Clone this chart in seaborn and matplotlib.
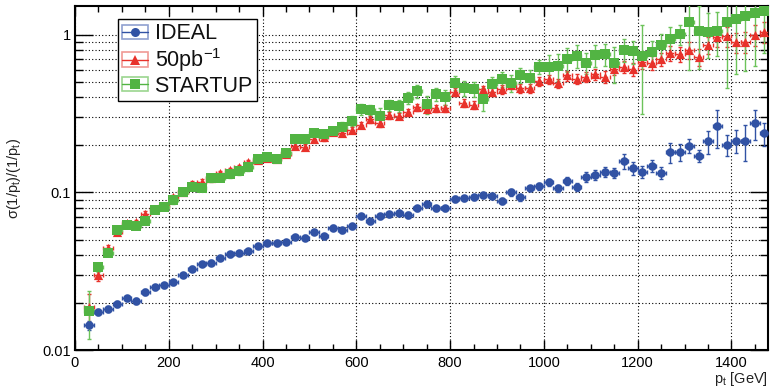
import numpy as np
import pandas as pd
import matplotlib
matplotlib.use("Agg")
import matplotlib.pyplot as plt
import seaborn as sns
from matplotlib.lines import Line2D
from matplotlib.patches import Rectangle
from matplotlib.ticker import FixedLocator, NullFormatter, FixedFormatter, MultipleLocator

# transverse-momentum bin centres [GeV]
pt = [30, 50, 70, 90, 110, 130, 150, 170, 190, 210,
      230, 250, 270, 290, 310, 330, 350, 370, 390, 410,
      430, 450, 470, 490, 510, 530, 550, 570, 590, 610,
      630, 650, 670, 690, 710, 730, 750, 770, 790, 810,
      830, 850, 870, 890, 910, 930, 950, 970, 990, 1010,
      1030, 1050, 1070, 1090, 1110, 1130, 1150, 1170, 1190, 1210,
      1230, 1250, 1270, 1290, 1310, 1330, 1350, 1370, 1390, 1410,
      1430, 1450, 1470]
pt_halfwidth = 10

# relative 1/pt resolution, ideal alignment
ideal = [0.0144, 0.0175, 0.0182, 0.0196, 0.0213, 0.0205, 0.0234, 0.0251, 0.0257, 0.0269,
         0.0299, 0.0328, 0.0351, 0.0358, 0.0383, 0.0404, 0.0414, 0.0426, 0.0456, 0.0479,
         0.0475, 0.0486, 0.0521, 0.0516, 0.0560, 0.0526, 0.0597, 0.0577, 0.0611, 0.0708,
         0.0658, 0.0705, 0.0728, 0.0739, 0.0718, 0.0791, 0.0839, 0.0791, 0.0791, 0.0907,
         0.0916, 0.0930, 0.0957, 0.0952, 0.0885, 0.1000, 0.0930, 0.1060, 0.1090, 0.1160,
         0.1060, 0.1180, 0.1080, 0.1260, 0.1290, 0.1350, 0.1330, 0.1580, 0.1420, 0.1350,
         0.1480, 0.1330, 0.1800, 0.1800, 0.1970, 0.1710, 0.2110, 0.2620, 0.2010, 0.2120,
         0.2120, 0.2740, 0.2370]
ideal_err = [0.0010, 0.0008, 0.0008, 0.0008, 0.0008, 0.0008, 0.0009, 0.0009, 0.0009, 0.0010,
             0.0010, 0.0011, 0.0011, 0.0012, 0.0012, 0.0013, 0.0013, 0.0014, 0.0015, 0.0015,
             0.0016, 0.0016, 0.0017, 0.0018, 0.0019, 0.0019, 0.0021, 0.0021, 0.0022, 0.0025,
             0.0024, 0.0026, 0.0027, 0.0028, 0.0028, 0.0031, 0.0033, 0.0032, 0.0033, 0.0037,
             0.0038, 0.0039, 0.0041, 0.0042, 0.0040, 0.0045, 0.0043, 0.0045, 0.0050, 0.0060,
             0.0060, 0.0070, 0.0065, 0.0090, 0.0100, 0.0090, 0.0090, 0.0170, 0.0130, 0.0120,
             0.0130, 0.0110, 0.0270, 0.0220, 0.0200, 0.0150, 0.0350, 0.0700, 0.0300, 0.0350,
             0.0550, 0.0600, 0.0400]

# 50 pb^-1 misalignment scenario
pb50 = [0.0188, 0.0299, 0.0442, 0.0562, 0.0636, 0.0645, 0.0728, 0.0785, 0.0825, 0.0930,
        0.1010, 0.1130, 0.1170, 0.1240, 0.1320, 0.1380, 0.1440, 0.1550, 0.1600, 0.1660,
        0.1630, 0.1740, 0.1970, 0.1930, 0.2180, 0.2230, 0.2410, 0.2390, 0.2480, 0.2670,
        0.2900, 0.2740, 0.3090, 0.3050, 0.3230, 0.3460, 0.3360, 0.3410, 0.3410, 0.4350,
        0.3700, 0.3600, 0.4500, 0.4350, 0.4500, 0.4800, 0.4570, 0.4560, 0.5080, 0.5210,
        0.4910, 0.5520, 0.5250, 0.5410, 0.5620, 0.5410, 0.6030, 0.6260, 0.6050, 0.6730,
        0.6650, 0.6990, 0.7640, 0.7530, 0.8020, 0.7270, 0.8630, 0.9700, 0.9800, 0.9000,
        0.9000, 1.0000, 1.0400]
pb50_err = [0.0040, 0.0025, 0.0025, 0.0025, 0.0025, 0.0025, 0.0030, 0.0030, 0.0030, 0.0035,
            0.0040, 0.0045, 0.0045, 0.0050, 0.0055, 0.0055, 0.0060, 0.0065, 0.0065, 0.0070,
            0.0070, 0.0075, 0.0085, 0.0085, 0.0095, 0.0100, 0.0110, 0.0110, 0.0115, 0.0125,
            0.0140, 0.0135, 0.0150, 0.0150, 0.0160, 0.0175, 0.0175, 0.0180, 0.0185, 0.0240,
            0.0210, 0.0210, 0.0260, 0.0260, 0.0280, 0.0300, 0.0300, 0.0300, 0.0340, 0.0360,
            0.0350, 0.0400, 0.0400, 0.0420, 0.0450, 0.0450, 0.0500, 0.0550, 0.0550, 0.0650,
            0.0650, 0.0700, 0.0850, 0.0850, 0.1000, 0.0900, 0.1100, 0.1300, 0.1400, 0.1300,
            0.1400, 0.1500, 0.1600]

# start-up misalignment scenario
startup = [0.0177, 0.0334, 0.0414, 0.0577, 0.0621, 0.0614, 0.0661, 0.0772, 0.0811, 0.0890,
           0.1010, 0.1080, 0.1070, 0.1230, 0.1240, 0.1300, 0.1360, 0.1450, 0.1620, 0.1680,
           0.1640, 0.1780, 0.2180, 0.2170, 0.2390, 0.2340, 0.2460, 0.2610, 0.2850, 0.3360,
           0.3330, 0.3050, 0.3580, 0.3530, 0.3960, 0.4370, 0.3610, 0.4180, 0.4040, 0.4950,
           0.4610, 0.4520, 0.3920, 0.4860, 0.5230, 0.4950, 0.5550, 0.5310, 0.6260, 0.6260,
           0.6320, 0.6990, 0.7340, 0.6660, 0.7450, 0.7530, 0.6660, 0.8020, 0.7830, 0.7340,
           0.7760, 0.8630, 0.9380, 1.0100, 1.2000, 1.0600, 1.0400, 1.0600, 1.2100, 1.2600,
           1.3200, 1.3800, 1.4200]
startup_err = [0.0060, 0.0020, 0.0020, 0.0025, 0.0025, 0.0025, 0.0030, 0.0035, 0.0035, 0.0040,
               0.0045, 0.0050, 0.0050, 0.0060, 0.0060, 0.0065, 0.0070, 0.0075, 0.0085, 0.0090,
               0.0090, 0.0100, 0.0120, 0.0120, 0.0140, 0.0140, 0.0150, 0.0170, 0.0200, 0.0250,
               0.0250, 0.0400, 0.0300, 0.0300, 0.0350, 0.0400, 0.0450, 0.0400, 0.0450, 0.0500,
               0.0500, 0.0500, 0.0650, 0.0550, 0.0600, 0.0600, 0.0600, 0.0650, 0.0600, 0.1200,
               0.1200, 0.1200, 0.1200, 0.1000, 0.1200, 0.1200, 0.1700, 0.1300, 0.1300, 0.4200,
               0.1300, 0.1500, 0.1800, 0.1500, 0.6000, 0.4500, 0.3300, 0.3300, 0.7500, 0.7000,
               0.7300, 0.7500, 0.6600]

labels = ["IDEAL", "50pb$^{-1}$", "STARTUP"]
y_ticks = [0.01, 0.1, 1]
y_ticklabels = ["0.01", "0.1", "1"]
x_ticks = [0, 200, 400, 600, 800, 1000, 1200, 1400]

sns.set_theme(style="ticks")
plt.rcParams['font.family'] = ['Liberation Sans', 'DejaVu Sans']
plt.rcParams['mathtext.default'] = 'regular'

BLUE = "#3152a4"
RED = "#e8322b"
GREEN = "#52b443"
GREEN_BAR = "#6cc35a"

frames = []
for name, vals, errs in [("IDEAL", ideal, ideal_err),
                         ("50pb", pb50, pb50_err),
                         ("STARTUP", startup, startup_err)]:
    frames.append(pd.DataFrame({"pt": pt, "res": vals, "err": errs, "sample": name}))
df = pd.concat(frames, ignore_index=True)

fig = plt.figure(figsize=(7.7, 3.89), dpi=100)
ax = fig.add_axes([0.0974, 0.100, 0.9, 0.8846])

styles = {
    "IDEAL":   dict(color=BLUE, bar=BLUE, marker="o", s=38, ls="-"),
    "50pb":    dict(color=RED, bar=RED, marker="^", s=44, ls=":"),
    "STARTUP": dict(color=GREEN, bar=GREEN_BAR, marker="s", s=42, ls="-"),
}

for name in ["IDEAL", "50pb", "STARTUP"]:
    st = styles[name]
    sub = df[df["sample"] == name]
    eb = ax.errorbar(sub["pt"], sub["res"], yerr=sub["err"], xerr=pt_halfwidth,
                     fmt="none", ecolor=st["bar"], elinewidth=1.0, capsize=1.5,
                     capthick=1.0, zorder=3)
    if st["ls"] == ":":
        eb[2][0].set_linestyle((0, (2, 1.5)))
    sns.scatterplot(data=sub, x="pt", y="res", ax=ax, color=st["color"],
                    marker=st["marker"], s=st["s"], linewidth=0, zorder=4,
                    legend=False)

ax.set_yscale("log")
ax.set_xlim(0, 1478)
ax.set_ylim(0.01, 1.52)

ax.yaxis.set_major_locator(FixedLocator(y_ticks))
ax.yaxis.set_major_formatter(FixedFormatter(y_ticklabels))
minor_y = [m * d for d in (0.01, 0.1, 1) for m in range(2, 10) if m * d < 1.52]
ax.yaxis.set_minor_locator(FixedLocator(minor_y))
ax.yaxis.set_minor_formatter(NullFormatter())
ax.xaxis.set_major_locator(FixedLocator(x_ticks))
ax.xaxis.set_minor_locator(MultipleLocator(50))

ax.grid(which="major", axis="x", color="black", linestyle=(0, (1, 2)), linewidth=0.8)
ax.grid(which="both", axis="y", color="black", linestyle=(0, (1, 2)), linewidth=0.8)
ax.set_axisbelow(True)

ax.tick_params(axis="both", which="both", direction="in", top=True, right=True,
               colors="black", labelsize=10.5, width=1.0)
ax.tick_params(axis="y", which="major", length=13, pad=3)
ax.tick_params(axis="y", which="minor", length=6)
ax.tick_params(axis="x", which="major", length=7, pad=4)
ax.tick_params(axis="x", which="minor", length=4)
for sp in ax.spines.values():
    sp.set_color("black")
    sp.set_linewidth(1.5)

ax.set_ylabel("σ(1/p$_t$)/(1/p$_t$)", fontsize=10.5, color="#222222")
ax.yaxis.set_label_coords(-0.075, 0.5)
ax.set_xlabel("p$_t$ [GeV]", fontsize=10.5, color="#222222", ha="right", va="top")
ax.xaxis.set_label_coords(1.0, -0.058)

handles = []
for name, col, light in [("IDEAL", BLUE, "#8fa0d0"), ("50pb", RED, "#f09a95"),
                         ("STARTUP", GREEN, "#9bd68f")]:
    st = styles[name]
    box = Rectangle((0, 0), 1, 1, facecolor="none", edgecolor=light, linewidth=1.2)
    line = Line2D([], [], color=col, linewidth=1.0, marker=st["marker"],
                  markersize=6.5, markeredgewidth=0)
    handles.append((box, line))

leg = ax.legend(handles, labels, loc="upper left", bbox_to_anchor=(0.062, 0.962),
                borderaxespad=0, fontsize=15.5, frameon=True, fancybox=False,
                handlelength=1.2, handleheight=0.65, handletextpad=0.3,
                labelspacing=0.08, borderpad=0.2)
leg.get_frame().set_edgecolor("black")
leg.get_frame().set_linewidth(1.0)
leg.get_frame().set_facecolor("white")
leg.get_frame().set_alpha(1.0)
for t in leg.get_texts():
    t.set_color("#111111")

fig.savefig("out.png", dpi=100)
